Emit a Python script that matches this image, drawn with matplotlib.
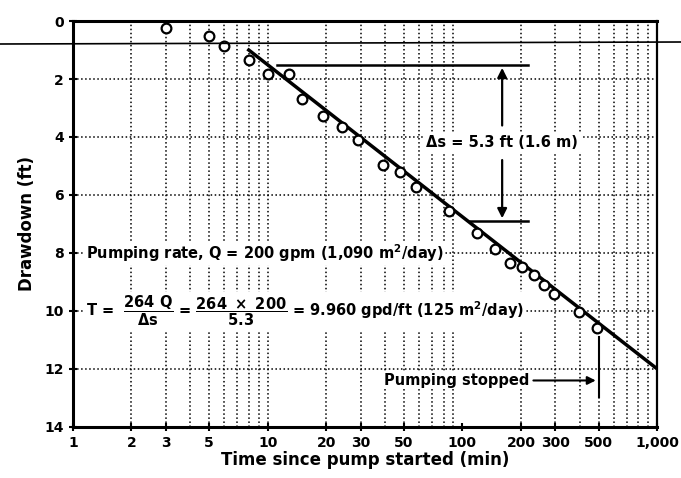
import matplotlib.pyplot as plt
from matplotlib.lines import Line2D

plt.rcParams.update({
    "font.family": ["DejaVu Sans"],
    "font.weight": "bold",
    "axes.labelweight": "bold",
    "font.size": 10,
    "mathtext.fontset": "custom",
    "mathtext.rm": "DejaVu Sans:bold",
    "mathtext.it": "DejaVu Sans:bold",
    "mathtext.sf": "DejaVu Sans:bold",
})

# observed drawdown
time_min = [3, 5, 6, 8, 10, 12.8, 15, 19.2, 24, 29, 39, 48, 58, 85, 119,
            147, 176, 202, 233, 262, 295, 397, 491]
drawdown_ft = [0.23, 0.5, 0.86, 1.34, 1.83, 1.83, 2.69, 3.27, 3.65, 4.1, 4.97,
               5.2, 5.73, 6.54, 7.3, 7.87, 8.35, 8.47, 8.76, 9.1, 9.4, 10.03, 10.6]

# straight-line fit
fit_time = [8, 1000]
fit_drawdown = [1.0, 12.0]

# delta s construction
ds_top, ds_bottom = 1.52, 6.9
ds_x = 160
pump_stop = 500

x_ticks = [1, 2, 3, 5, 10, 20, 30, 50, 100, 200, 300, 500, 1000]
x_labels = ["1", "2", "3", "5", "10", "20", "30", "50", "100", "200", "300", "500", "1,000"]
y_ticks = [0, 2, 4, 6, 8, 10, 12, 14]

fig = plt.figure(figsize=(6.81, 4.78), dpi=100)
ax = fig.add_axes([0.107, 0.107, 0.858, 0.849])

ax.set_xscale("log")
ax.set_xlim(1, 1000)
ax.set_ylim(14, 0)

grid_x = [2, 3, 4, 5, 6, 7, 8, 9, 10, 20, 30, 40, 50, 60, 70, 80, 90,
          200, 300, 400, 500, 600, 700, 800, 900]
for gx in grid_x:
    ax.axvline(gx, color="k", ls=":", lw=1.1, zorder=0)
for gy in y_ticks[1:-1]:
    ax.axhline(gy, color="k", ls=":", lw=1.1, zorder=0)

ax.plot(fit_time, fit_drawdown, color="k", lw=2.5, zorder=3)
ax.plot(time_min, drawdown_ft, "o", ms=7, mfc="white", mec="k", mew=1.6, zorder=4)

# delta s
ax.plot([11.2, 217], [ds_top, ds_top], color="k", lw=1.8)
ax.plot([109, 217], [ds_bottom, ds_bottom], color="k", lw=1.8)
ax.annotate("", xy=(ds_x, ds_top), xytext=(ds_x, 3.7),
            arrowprops=dict(arrowstyle="-|>", color="k", lw=1.6, mutation_scale=14))
ax.annotate("", xy=(ds_x, ds_bottom), xytext=(ds_x, 4.7),
            arrowprops=dict(arrowstyle="-|>", color="k", lw=1.6, mutation_scale=14))
ax.text(ds_x, 4.2, "Δs = 5.3 ft (1.6 m)", ha="center", va="center", fontsize=10.5,
        bbox=dict(fc="white", ec="none", pad=2), zorder=5)

ax.text(1.17, 8.0, "Pumping rate, Q = 200 gpm (1,090 m$^2$/day)", ha="left", va="center",
        fontsize=10.5, bbox=dict(fc="white", ec="none", pad=1), zorder=5)
ax.text(1.17, 10.0,
        r"T =  $\dfrac{264\ Q}{\Delta s}$ = $\dfrac{264\ \times\ 200}{5.3}$ = 9.960 gpd/ft (125 m$^2$/day)",
        ha="left", va="center", fontsize=10.5, bbox=dict(fc="white", ec="none", pad=1), zorder=5)

# pumping stopped
ax.plot([pump_stop, pump_stop], [10.9, 12.97], color="k", lw=1.5)
ax.annotate("", xy=(pump_stop, 12.4), xytext=(224, 12.4),
            arrowprops=dict(arrowstyle="-|>", color="k", lw=1.5, mutation_scale=12))
ax.text(220, 12.4, "Pumping stopped", ha="right", va="center", fontsize=10.5,
        bbox=dict(fc="white", ec="none", pad=1), zorder=5)

ax.set_xticks(x_ticks)
ax.set_xticklabels(x_labels)
ax.minorticks_off()
ax.set_yticks(y_ticks)
ax.tick_params(direction="inout", length=6, width=1.5, labelsize=10)
for side in ["left", "bottom", "top"]:
    ax.spines[side].set_linewidth(2.2)
ax.spines["right"].set_linewidth(1.6)

ax.set_xlabel("Time since pump started (min)", fontsize=12, labelpad=1)
ax.set_ylabel("Drawdown (ft)", fontsize=12, labelpad=6)

# stray horizontal rule across the page
fig.add_artist(Line2D([0, 1], [1 - 44 / 478, 1 - 42 / 478], color="k", lw=1.2))

fig.savefig("out.png", dpi=100)
